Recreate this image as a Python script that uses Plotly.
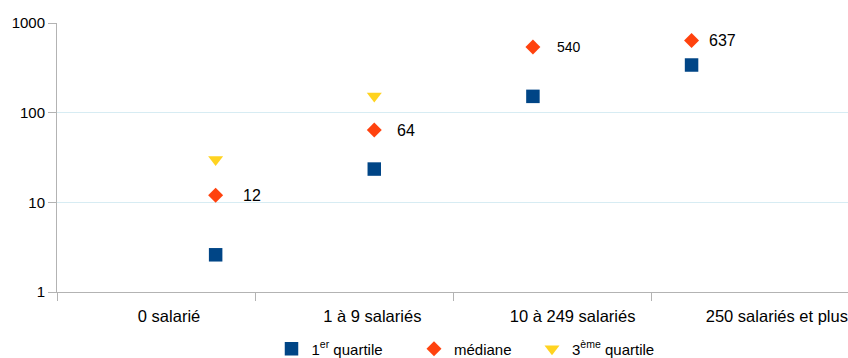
import math
import plotly.graph_objects as go

# Company-size classes and the quartiles of each class (log scale)
categories = ["0 salarié", "1 à 9 salariés", "10 à 249 salariés", "250 salariés et plus"]
premier_quartile = [2.6, 23.5, 152, 340]
mediane = [12, 64, 540, 637]
troisieme_quartile = [30, 153, None, None]
mediane_labels = ["12", "64", "540", "637"]

y_ticks = [1, 10, 100, 1000]

# layout helpers
label_pos = [0.565, 1.59, 2.60, 3.63]      # where the class names sit on the x axis
label_shift = [25, 21, 22, 15]             # horizontal offset of the median labels (px)
label_size = [16, 16, 14, 16]
xs = [(i + 1) * 0.8 for i in range(len(categories))]

FONT = "Liberation Sans"
BLUE, ORANGE, YELLOW = "#004586", "#ff420e", "#ffd320"
AXIS = "#b3b3b3"
GRID = "#d7ecf3"

fig = go.Figure()
fig.add_trace(go.Scatter(
    x=xs, y=premier_quartile, mode="markers", name="1<sup>er</sup> quartile",
    marker=dict(symbol="square", size=13.5, color=BLUE), legend="legend"))
fig.add_trace(go.Scatter(
    x=xs, y=mediane, mode="markers", name="médiane",
    marker=dict(symbol="diamond", size=11.5, color=ORANGE), legend="legend2"))
fig.add_trace(go.Scatter(
    x=xs, y=troisieme_quartile, mode="markers", name="3<sup>ème</sup> quartile",
    marker=dict(symbol="triangle-down", size=13, color=YELLOW), legend="legend3"))

for x, v, t, dx, fs in zip(xs, mediane, mediane_labels, label_shift, label_size):
    fig.add_annotation(x=x, y=math.log10(v), text=t, showarrow=False,
                       xanchor="left", yanchor="middle", xshift=dx,
                       font=dict(family=FONT, size=fs, color="#000000"))

W, H = 848, 358
L, T, B = 57, 23, 66
cat_w = 198.3
x_max = (W - L) / cat_w

fig.update_layout(
    width=W, height=H,
    margin=dict(l=L, r=0, t=T, b=B, pad=0),
    paper_bgcolor="white", plot_bgcolor="white",
    font=dict(family=FONT, size=15, color="#000000"),
    showlegend=True,
    xaxis=dict(
        range=[0, x_max], tickmode="array", tickvals=label_pos, ticktext=categories,
        ticks="outside", ticklen=9, tickcolor="rgba(0,0,0,0)",
        tickfont=dict(size=16.5), showgrid=False, zeroline=False,
        showline=True, linecolor=AXIS, linewidth=1,
        minor=dict(tickmode="array", tickvals=[0, 1, 2, 3, 4], ticks="outside",
                   ticklen=8, tickcolor=AXIS, tickwidth=1, showgrid=False),
    ),
    yaxis=dict(
        type="log", range=[0, 3], tickmode="array", tickvals=y_ticks,
        ticktext=[str(v) for v in y_ticks],
        ticks="outside", ticklen=8, tickcolor=AXIS, tickwidth=1,
        tickfont=dict(size=15), showgrid=True, gridcolor=GRID, gridwidth=1,
        zeroline=False, showline=True, linecolor=AXIS, linewidth=1,
    ),
)

legend_common = dict(orientation="h", xref="container", yref="container",
                     xanchor="left", yanchor="middle", bgcolor="rgba(0,0,0,0)",
                     borderwidth=0, font=dict(size=15), itemwidth=30)
fig.update_layout(
    legend=dict(x=(291.5 - 20) / W, y=1 - 349 / H, **legend_common),
    legend2=dict(x=(434 - 20) / W, y=1 - 349 / H, **legend_common),
    legend3=dict(x=(552 - 20) / W, y=1 - 349 / H, **legend_common),
)

fig.write_html("out.html")
